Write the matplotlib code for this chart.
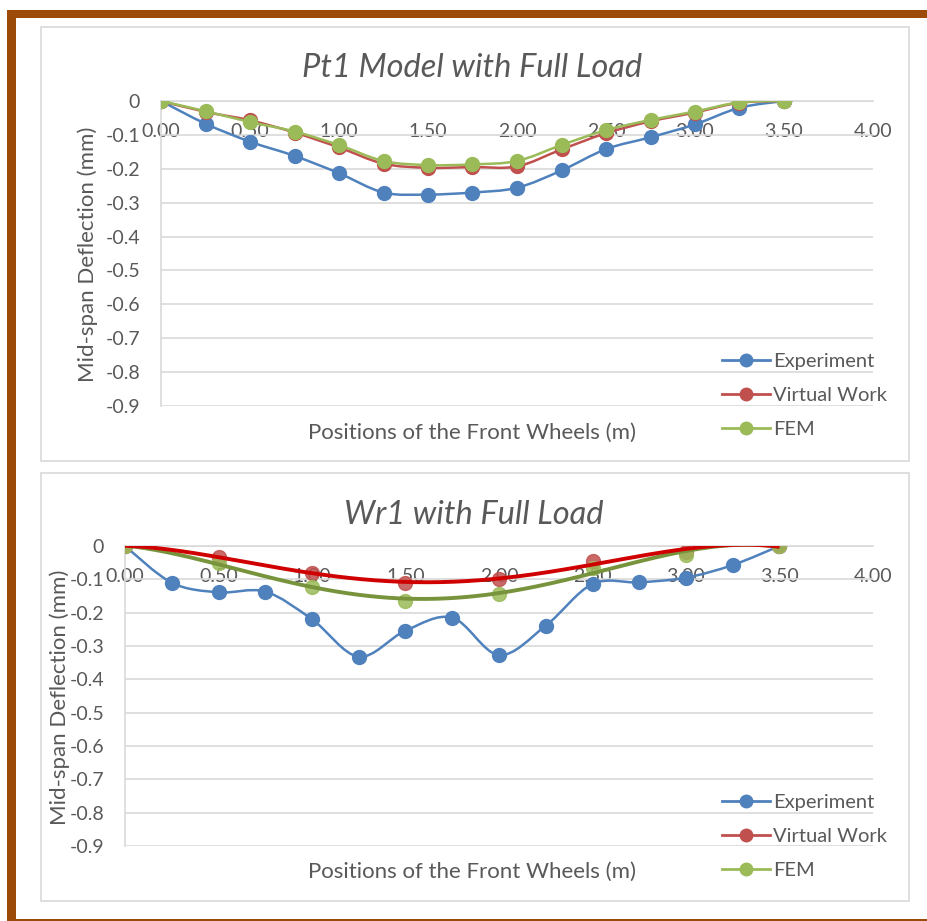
import numpy as np
import matplotlib
matplotlib.use("Agg")
import matplotlib.pyplot as plt
from matplotlib.path import Path
from matplotlib.patches import PathPatch, Rectangle
from matplotlib.lines import Line2D

plt.rcParams['font.family'] = ['Lato', 'DejaVu Sans']

# ---------------- data ----------------
pt1_x = [0.00, 0.25, 0.50, 0.75, 1.00, 1.25, 1.50, 1.75, 2.00, 2.25, 2.50, 2.75, 3.00, 3.25, 3.50]
pt1_experiment = [0.000, -0.067, -0.120, -0.162, -0.213, -0.270, -0.276, -0.270, -0.256,
                  -0.205, -0.142, -0.107, -0.069, -0.020, 0.000]
pt1_virtual = [0.000, -0.032, -0.057, -0.093, -0.137, -0.185, -0.197, -0.195, -0.193,
               -0.143, -0.095, -0.060, -0.034, -0.005, 0.000]
pt1_fem = [0.000, -0.030, -0.062, -0.090, -0.130, -0.177, -0.189, -0.187, -0.177,
           -0.130, -0.086, -0.056, -0.031, -0.004, 0.000]

wr1_exp_x = [0.00, 0.25, 0.50, 0.75, 1.00, 1.25, 1.50, 1.75, 2.00, 2.25, 2.50, 2.75, 3.00, 3.25, 3.50]
wr1_experiment = [0.000, -0.110, -0.139, -0.137, -0.220, -0.332, -0.254, -0.215, -0.327,
                  -0.239, -0.114, -0.109, -0.095, -0.057, 0.000]
wr1_model_x = [0.0, 0.5, 1.0, 1.5, 2.0, 2.5, 3.0, 3.5]
wr1_virtual = [0.000, -0.032, -0.080, -0.112, -0.100, -0.045, -0.017, 0.000]
wr1_fem = [0.000, -0.052, -0.122, -0.164, -0.144, -0.067, -0.027, 0.000]

series_names = ["Experiment", "Virtual Work", "FEM"]
x_ticks = [0.0, 0.5, 1.0, 1.5, 2.0, 2.5, 3.0, 3.5, 4.0]
x_tick_labels = ["0.00", "0.50", "1.00", "1.50", "2.00", "2.50", "3.00", "3.50", "4.00"]
y_ticks = [0, -0.1, -0.2, -0.3, -0.4, -0.5, -0.6, -0.7, -0.8, -0.9]
y_tick_labels = ["0", "-0.1", "-0.2", "-0.3", "-0.4", "-0.5", "-0.6", "-0.7", "-0.8", "-0.9"]
titles = ["Pt1 Model with Full Load", "Wr1 with Full Load"]
x_label = "Positions of the Front Wheels (m)"
y_label = "Mid-span Deflection (mm)"

# ---------------- style ----------------
W, H = 928, 921
BLUE = "#4F81BD"
RED = "#C0504D"
GREEN = "#9BBB59"
RED_TREND = "#D00000"
GREEN_TREND = "#77933C"
TXT = "#595959"
GRID = "#D9D9D9"
BROWN = "#9C4A08"

fig = plt.figure(figsize=(W / 100, H / 100), dpi=100)


def fx(px):
    return px / W


def fy(py):
    return 1 - py / H


def rect(x0, y0, x1, y1, **kw):
    fig.add_artist(Rectangle((fx(x0), fy(y1)), fx(x1) - fx(x0), fy(y0) - fy(y1),
                             transform=fig.transFigure, zorder=-5, **kw))


# outer frame
rect(7, 10, 16, 921, facecolor=BROWN, edgecolor="none")
rect(7, 10, 928, 18.5, facecolor=BROWN, edgecolor="none")
rect(7, 918.5, 928, 921, facecolor=BROWN, edgecolor="none")
# chart panels
rect(41, 27, 909, 461, facecolor="white", edgecolor=GRID, linewidth=1.2)
rect(41, 473, 909, 901, facecolor="white", edgecolor=GRID, linewidth=1.2)


def smooth_line(ax, x, y, color, lw, z=3):
    x = np.asarray(x, float)
    y = np.asarray(y, float)
    n = len(x)
    verts = [(x[0], y[0])]
    codes = [Path.MOVETO]
    for i in range(n - 1):
        i0, i3 = max(i - 1, 0), min(i + 2, n - 1)
        c1 = (x[i] + (x[i + 1] - x[i0]) / 6, y[i] + (y[i + 1] - y[i0]) / 6)
        c2 = (x[i + 1] - (x[i3] - x[i]) / 6, y[i + 1] - (y[i3] - y[i]) / 6)
        verts += [c1, c2, (x[i + 1], y[i + 1])]
        codes += [Path.CURVE4] * 3
    ax.add_patch(PathPatch(Path(verts, codes), fill=False, edgecolor=color,
                           linewidth=lw, zorder=z, capstyle='round', joinstyle='round'))


def make_axes(left, right, top, bottom):
    ax = fig.add_axes([fx(left), fy(bottom), fx(right) - fx(left), fy(top) - fy(bottom)])
    ax.set_xlim(0, 4.0)
    ax.set_ylim(-0.9, 0)
    ax.patch.set_alpha(0)
    for s in ["top", "right"]:
        ax.spines[s].set_visible(False)
    ax.spines["left"].set_color(GRID)
    ax.spines["left"].set_linewidth(1.2)
    ax.spines["bottom"].set_position(("data", 0))
    ax.spines["bottom"].set_color(GRID)
    ax.spines["bottom"].set_linewidth(1.2)
    ax.set_xticks(x_ticks)
    ax.set_xticklabels(x_tick_labels)
    ax.set_yticks(y_ticks)
    ax.set_yticklabels(y_tick_labels)
    ax.tick_params(axis="x", length=0, pad=16, labelsize=14, labelcolor=TXT)
    ax.tick_params(axis="y", length=0, pad=15, labelsize=14, labelcolor=TXT)
    ax.grid(axis="y", color=GRID, linewidth=1.2)
    ax.set_axisbelow(True)
    return ax


MS = 10
LW = 1.8

# ---------------- top chart ----------------
ax1 = make_axes(161, 873, 101, 406)
smooth_line(ax1, pt1_x, pt1_experiment, BLUE, LW, z=3)
ax1.plot(pt1_x, pt1_experiment, "o", color=BLUE, ms=MS, zorder=4)
smooth_line(ax1, pt1_x, pt1_virtual, RED, LW, z=5)
ax1.plot(pt1_x, pt1_virtual, "o", color=RED, ms=MS, zorder=6)
smooth_line(ax1, pt1_x, pt1_fem, GREEN, LW, z=7)
ax1.plot(pt1_x, pt1_fem, "o", color=GREEN, ms=MS, zorder=8)

# ---------------- bottom chart ----------------
ax2 = make_axes(125, 873, 546, 846)
smooth_line(ax2, wr1_exp_x, wr1_experiment, BLUE, LW, z=3)
ax2.plot(wr1_exp_x, wr1_experiment, "o", color=BLUE, ms=MS, zorder=4)
ax2.plot(wr1_model_x, wr1_virtual, "o", color=RED, ms=MS, alpha=0.85, zorder=5)
ax2.plot(wr1_model_x, wr1_fem, "o", color=GREEN, ms=MS, alpha=0.85, zorder=5)
xs = np.linspace(wr1_model_x[0], wr1_model_x[-1], 200)
ax2.plot(xs, np.polyval(np.polyfit(wr1_model_x, wr1_fem, 4), xs), color=GREEN_TREND,
         lw=2.8, zorder=6, solid_capstyle='butt')
ax2.plot(xs, np.polyval(np.polyfit(wr1_model_x, wr1_virtual, 4), xs), color=RED_TREND,
         lw=2.8, zorder=7, solid_capstyle='butt')

# ---------------- texts & legends ----------------
for i, (tx, ty, xl_y, ylx, yly) in enumerate([(472, 68, 433, 88, 254), (474, 515, 872, 60, 697)]):
    fig.text(fx(tx), fy(ty), titles[i], ha="center", va="center", fontsize=23.5,
             fontstyle="italic", color=TXT)
    fig.text(fx(472), fy(xl_y), x_label, ha="center", va="center", fontsize=16, color=TXT)
    fig.text(fx(ylx), fy(yly), y_label, ha="center", va="center", rotation=90,
             fontsize=16, color=TXT)

handles = [Line2D([], [], color=c, marker="o", ms=9, lw=2) for c in (BLUE, RED, GREEN)]
for ly in (361, 802):
    fig.legend(handles, series_names, loc="upper left",
               bbox_to_anchor=(fx(722), fy(ly - 8)), frameon=False,
               fontsize=14.5, labelcolor=TXT, handlelength=2.4, handletextpad=0.15,
               labelspacing=0.83, borderaxespad=0, borderpad=0)

fig.savefig("out.png", dpi=100)
